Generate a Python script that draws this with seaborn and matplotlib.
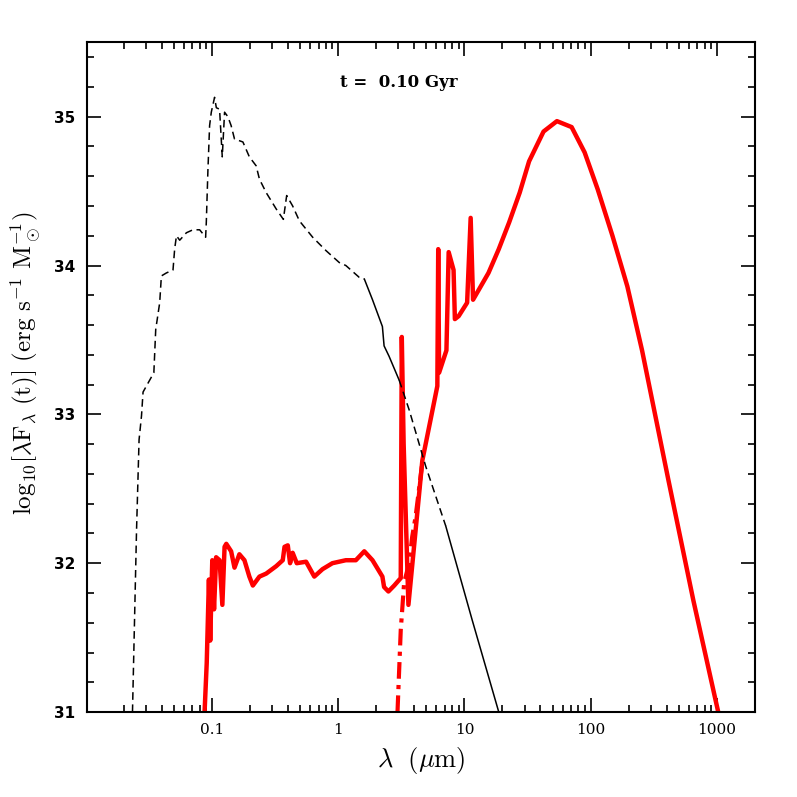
import seaborn as sns
import matplotlib
matplotlib.use('Agg')
import matplotlib.pyplot as plt
import matplotlib.ticker as mticker
import numpy as np

# stellar SED (black), wavelength in micron, log10 lambda F_lambda
wl_star = [0.0235, 0.0253, 0.0265, 0.0277, 0.0285, 0.0347, 0.0359, 0.0386, 0.0398,
           0.0436, 0.0492, 0.0507, 0.0524, 0.0556, 0.0628, 0.0708, 0.080, 0.0892,
           0.0903, 0.0930, 0.0959, 0.0989, 0.105, 0.1084, 0.115, 0.1208, 0.126,
           0.1338, 0.142, 0.151, 0.176, 0.198, 0.224, 0.238, 0.269, 0.323, 0.368,
           0.391, 0.436, 0.493, 0.628, 0.801, 1.02, 1.15, 1.47, 1.61, 1.87, 2.24,
           2.31, 2.53, 3.04, 3.65, 4.94, 7.11, 11.5, 18.7]
lf_star = [31.0, 32.22, 32.83, 32.99, 33.15, 33.28, 33.57, 33.75, 33.93,
           33.95, 33.97, 34.11, 34.20, 34.17, 34.22, 34.24, 34.24, 34.19,
           34.29, 34.64, 34.94, 35.03, 35.13, 35.06, 35.05, 34.73, 35.03,
           35.0, 34.94, 34.85, 34.83, 34.73, 34.67, 34.58, 34.49, 34.38, 34.31,
           34.47, 34.40, 34.30, 34.19, 34.10, 34.02, 34.0, 33.92, 33.91, 33.77, 33.59,
           33.46, 33.39, 33.23, 33.03, 32.65, 32.25, 31.62, 31.0]

# attenuated stars + dust (red solid)
wl_tot = [0.0875, 0.091, 0.0947, 0.097, 0.1007, 0.104, 0.108, 0.115, 0.121, 0.126,
          0.130, 0.142, 0.151, 0.165, 0.181, 0.198, 0.211, 0.238, 0.269, 0.323,
          0.364, 0.376, 0.399, 0.416, 0.436, 0.47, 0.557, 0.647, 0.752, 0.90,
          1.15, 1.38, 1.61, 1.87, 2.24, 2.31, 2.50, 2.78, 3.13, 3.19, 3.3, 3.6,
          4.64, 6.1, 6.2, 6.3, 7.2, 7.5, 8.2, 8.4, 9.0, 10.5, 11.2, 11.7, 15.5,
          18.7, 22.6, 27.4, 32.5, 42.3, 54.0, 70.6, 89.5, 113.8, 148.6, 195.0,
          255.0, 412.0, 650.0, 1023.0]
lf_tot = [31.0, 31.33, 31.89, 31.48, 32.02, 31.69, 32.04, 32.02, 31.72, 32.11,
          32.13, 32.08, 31.97, 32.06, 32.02, 31.91, 31.85, 31.91, 31.93, 31.98,
          32.02, 32.11, 32.12, 32.0, 32.07, 32.0, 32.01, 31.91, 31.96, 32.0,
          32.02, 32.02, 32.08, 32.02, 31.91, 31.84, 31.81, 31.85, 31.90, 33.52, 32.8, 31.72,
          32.69, 33.19, 34.11, 33.28, 33.43, 34.09, 33.97, 33.64, 33.66, 33.75, 34.32, 33.77, 33.95,
          34.11, 34.29, 34.49, 34.70, 34.90, 34.97, 34.93, 34.76, 34.51, 34.20, 33.86,
          33.43, 32.56, 31.75, 31.0]

# dust emission only (red dash-dot)
wl_dust = [2.95, 3.13, 3.33, 3.65, 3.86, 4.1, 4.6]
lf_dust = [31.0, 31.55, 31.87, 32.0, 32.18, 32.31, 32.65]

label_age = 't =  0.10 Gyr'

sns.set_theme(style='ticks')
plt.rcParams['font.family'] = ['DejaVu Serif', 'DejaVu Sans']
plt.rcParams['mathtext.fontset'] = 'cm'
plt.rcParams['text.color'] = 'black'
plt.rcParams['axes.labelcolor'] = 'black'
plt.rcParams['xtick.color'] = 'black'
plt.rcParams['ytick.color'] = 'black'

fig = plt.figure(figsize=(7.97, 7.97), dpi=100)
ax = fig.add_axes([0.1088, 0.1066, 0.8385, 0.8404])

wl_star = np.array(wl_star)
lf_star = np.array(lf_star)
# dashed / solid pieces of the stellar curve
pieces = [(0.0, 1.61, (0, (5, 3))), (1.61, 3.04, '-'), (3.04, 7.11, (0, (5, 3))), (7.11, 100, '-')]
for lo, hi, ls in pieces:
    m = (wl_star >= lo) & (wl_star <= hi)
    sns.lineplot(x=wl_star[m], y=lf_star[m], ax=ax, sort=False, estimator=None,
                 color='black', linewidth=1.1, linestyle=ls, zorder=3)

sns.lineplot(x=wl_dust, y=lf_dust, ax=ax, sort=False, estimator=None,
             color='red', linewidth=3, linestyle=(0, (4, 1.5, 1, 1.5)), zorder=1)
sns.lineplot(x=wl_tot, y=lf_tot, ax=ax, sort=False, estimator=None,
             color='red', linewidth=3.2, zorder=2)

ax.set_xscale('log')
ax.set_xlim(0.0102, 2000)
ax.set_ylim(31, 35.5)

ax.xaxis.set_major_locator(mticker.FixedLocator([0.01, 0.1, 1, 10, 100, 1000]))
ax.xaxis.set_major_formatter(mticker.FixedFormatter(['', '0.1', '1', '10', '100', '1000']))
ax.xaxis.set_minor_locator(mticker.LogLocator(base=10, subs=np.arange(2, 10), numticks=20))
ax.xaxis.set_minor_formatter(mticker.NullFormatter())
ax.yaxis.set_major_locator(mticker.MultipleLocator(1))
ax.yaxis.set_minor_locator(mticker.MultipleLocator(0.2))

ax.tick_params(which='both', direction='in', top=True, right=True, width=1.2, labelsize=11)
ax.tick_params(which='major', length=10, pad=8)
ax.tick_params(which='minor', length=5)
for lab in ax.get_yticklabels():
    lab.set_fontweight('bold')
    lab.set_family('DejaVu Sans')
for s in ax.spines.values():
    s.set_linewidth(1.5)
    s.set_color('black')

ax.set_xlabel(r'$\lambda\ \ (\mu\mathrm{m})$', fontsize=19, labelpad=6)
ax.set_ylabel(r'$\mathrm{log_{10}[\lambda F_\lambda\ (t)]\ (erg\ s^{-1}\ M_\odot^{-1})}$', fontsize=18)
ax.yaxis.set_label_coords(-0.066, 0.521)
ax.text(0.467, 0.94, label_age, transform=ax.transAxes, ha='center', va='center',
        fontsize=12, fontweight='semibold', family='DejaVu Serif')

fig.savefig('out.png', dpi=100)
